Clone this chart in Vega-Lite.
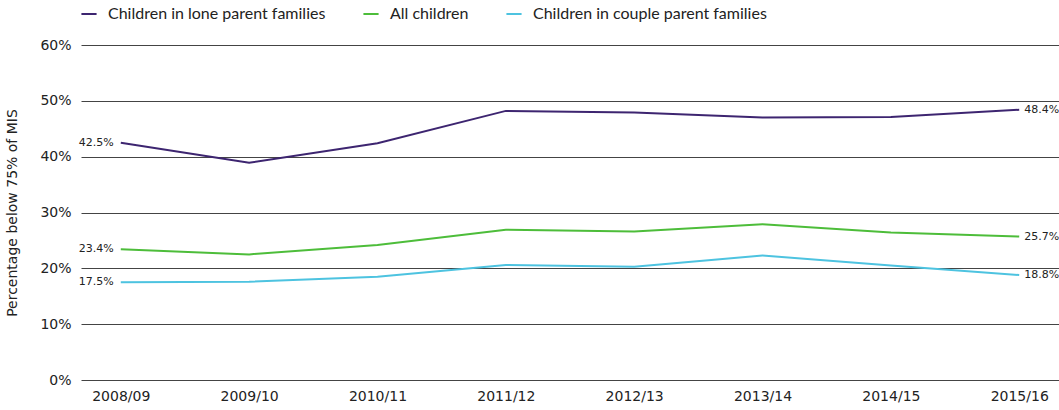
{
  "$schema": "https://vega.github.io/schema/vega-lite/v6.json",
  "autosize": "none",
  "width": 978,
  "height": 335,
  "padding": {"left": 81, "top": 45, "right": 0, "bottom": 30},
  "background": "white",
  "config": {"view": {"stroke": null}, "font": "DejaVu Sans"},
  "data": {"values": [
    {"year": "2008/09", "group": "Children in lone parent families", "value": 0.425},
    {"year": "2009/10", "group": "Children in lone parent families", "value": 0.389},
    {"year": "2010/11", "group": "Children in lone parent families", "value": 0.424},
    {"year": "2011/12", "group": "Children in lone parent families", "value": 0.482},
    {"year": "2012/13", "group": "Children in lone parent families", "value": 0.479},
    {"year": "2013/14", "group": "Children in lone parent families", "value": 0.470},
    {"year": "2014/15", "group": "Children in lone parent families", "value": 0.471},
    {"year": "2015/16", "group": "Children in lone parent families", "value": 0.484},
    {"year": "2008/09", "group": "All children", "value": 0.234},
    {"year": "2009/10", "group": "All children", "value": 0.225},
    {"year": "2010/11", "group": "All children", "value": 0.242},
    {"year": "2011/12", "group": "All children", "value": 0.269},
    {"year": "2012/13", "group": "All children", "value": 0.266},
    {"year": "2013/14", "group": "All children", "value": 0.279},
    {"year": "2014/15", "group": "All children", "value": 0.264},
    {"year": "2015/16", "group": "All children", "value": 0.257},
    {"year": "2008/09", "group": "Children in couple parent families", "value": 0.175},
    {"year": "2009/10", "group": "Children in couple parent families", "value": 0.176},
    {"year": "2010/11", "group": "Children in couple parent families", "value": 0.185},
    {"year": "2011/12", "group": "Children in couple parent families", "value": 0.206},
    {"year": "2012/13", "group": "Children in couple parent families", "value": 0.203},
    {"year": "2013/14", "group": "Children in couple parent families", "value": 0.223},
    {"year": "2014/15", "group": "Children in couple parent families", "value": 0.205},
    {"year": "2015/16", "group": "Children in couple parent families", "value": 0.188}
  ]},
  "encoding": {
    "x": {"field": "year", "type": "ordinal", "scale": {"type": "point", "padding": 0.31},
      "axis": {"title": null, "domain": false, "ticks": false, "labelAngle": 0, "labelFontSize": 14, "labelColor": "#222", "labelPadding": 9, "grid": false}},
    "y": {"field": "value", "type": "quantitative", "scale": {"domain": [0, 0.6]},
      "axis": {"title": "Percentage below 75% of MIS", "titleFontSize": 14, "titleFontWeight": "normal", "titleColor": "#222", "titlePadding": 20,
        "format": ".0%", "values": [0, 0.1, 0.2, 0.3, 0.4, 0.5, 0.6], "domain": false, "ticks": false,
        "labelFontSize": 14, "labelColor": "#222", "labelPadding": 10, "grid": true, "gridColor": "#444", "gridWidth": 1, "gridOpacity": 1}},
    "color": {"field": "group", "type": "nominal",
      "scale": {"domain": ["Children in lone parent families", "All children", "Children in couple parent families"], "range": ["#3d2570", "#4dbd3a", "#4dc3e0"]},
      "legend": {"title": null, "orient": "none", "direction": "horizontal", "legendX": -1, "legendY": -40,
        "symbolType": "stroke", "symbolStrokeWidth": 2, "symbolSize": 230, "labelFont": "Lato", "labelFontSize": 16, "labelColor": "#222", "columnPadding": 33, "labelOffset": 10, "labelLimit": 400}}
  },
  "layer": [
    {"mark": {"type": "line", "strokeWidth": 2}},
    {"transform": [{"filter": "datum.year == '2008/09'"}],
     "mark": {"type": "text", "align": "right", "dx": -7, "fontSize": 11, "color": "#222"},
     "encoding": {"text": {"field": "value", "type": "quantitative", "format": ".1%"}, "color": {"value": "#222"}}},
    {"transform": [{"filter": "datum.year == '2015/16'"}],
     "mark": {"type": "text", "align": "left", "dx": 5, "fontSize": 11, "color": "#222"},
     "encoding": {"text": {"field": "value", "type": "quantitative", "format": ".1%"}, "color": {"value": "#222"}}}
  ]
}
